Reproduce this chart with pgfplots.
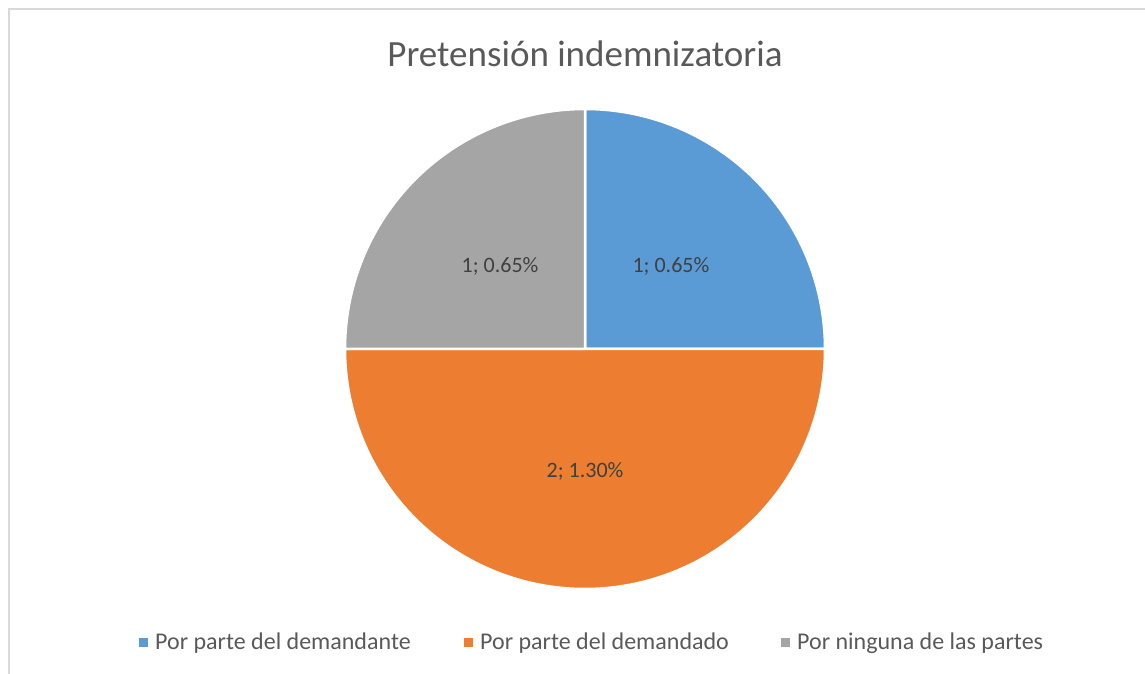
\documentclass[border=0pt]{standalone}
\usepackage{pgfplots}
\pgfplotsset{compat=1.18}
\usepackage{fontspec}
\setmainfont{Carlito}
\definecolor{cblue}{RGB}{91,155,213}
\definecolor{corange}{RGB}{237,125,49}
\definecolor{cgray}{RGB}{165,165,165}
\definecolor{titlegray}{RGB}{89,89,89}
\definecolor{labgray}{RGB}{64,64,64}
\definecolor{bordergray}{RGB}{217,217,217}
% data: values of the three categories
\def\va{1}% Por parte del demandante
\def\vb{2}% Por parte del demandado
\def\vc{1}% Por ninguna de las partes
\pgfmathsetmacro\tot{\va+\vb+\vc}
\pgfmathsetmacro\aone{90-360*\va/\tot}
\pgfmathsetmacro\atwo{\aone-360*\vb/\tot}
\pgfmathsetmacro\athree{\atwo-360*\vc/\tot}
\begin{document}
\begin{tikzpicture}[x=1pt,y=1pt]
\path[use as bounding box] (0,0) rectangle (1145,674);
\draw[bordergray, line width=2pt] (9,0) -- (9,665) -- (1145,665);
\node[font=\fontsize{37}{44}\selectfont, text=titlegray] at (585,620) {Pretensión indemnizatoria};
\begin{axis}[at={(585pt,325pt)}, anchor=center, x=240pt, y=240pt, hide axis,
  xmin=-1, xmax=1, ymin=-1, ymax=1, clip=false, scale only axis]
\addplot[fill=cblue, draw=white, line width=2.5pt, domain=\aone:90, samples=91, line join=round] ({cos(x)},{sin(x)}) -- (axis cs:0,0) -- cycle;
\addplot[fill=corange, draw=white, line width=2.5pt, domain=\atwo:\aone, samples=181, line join=round] ({cos(x)},{sin(x)}) -- (axis cs:0,0) -- cycle;
\addplot[fill=cgray, draw=white, line width=2.5pt, domain=\athree:\atwo, samples=91, line join=round] ({cos(x)},{sin(x)}) -- (axis cs:0,0) -- cycle;
\node[font=\fontsize{22}{26}\selectfont, text=labgray] at (axis cs:0.358,0.346) {1; 0.65\%};
\node[font=\fontsize{22}{26}\selectfont, text=labgray] at (axis cs:-0.354,0.346) {1; 0.65\%};
\node[font=\fontsize{22}{26}\selectfont, text=labgray] at (axis cs:0,-0.508) {2; 1.30\%};
\end{axis}
\begin{scope}[font=\fontsize{24}{28}\selectfont, text=titlegray]
\fill[cblue] (139,27) rectangle (148,36);
\node[anchor=base west, inner sep=0pt] at (155,24) {Por parte del demandante};
\fill[corange] (464,27) rectangle (473,36);
\node[anchor=base west, inner sep=0pt] at (480,24) {Por parte del demandado};
\fill[cgray] (781,27) rectangle (790,36);
\node[anchor=base west, inner sep=0pt] at (797,24) {Por ninguna de las partes};
\end{scope}
\end{tikzpicture}
\end{document}
